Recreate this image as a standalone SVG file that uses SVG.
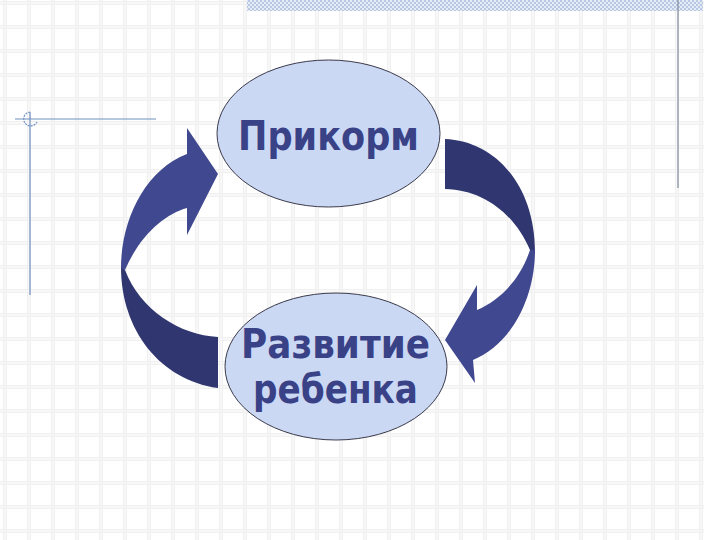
<svg xmlns="http://www.w3.org/2000/svg" width="720" height="540" viewBox="0 0 720 540">
<style>
.node ellipse{fill:#cbd8f4;stroke:#3a3a4a;stroke-width:1}
.node text{font-family:"DejaVu Sans","Liberation Sans",sans-serif;font-weight:bold;font-size:40px;fill:#3a4287;text-anchor:middle}
.deco{stroke:#6f8fc2;stroke-width:1.2;fill:none}
.dark{fill:#30366f}
.light{fill:#40488f}
</style>
<defs>
<pattern id="grid" patternUnits="userSpaceOnUse" x="3" y="25" width="24" height="24">
<rect x="0" y="0" width="4" height="24" fill="#f8f8f8"/>
<rect x="0" y="0" width="24" height="4" fill="#f8f8f8"/>
<rect x="0" y="0" width="1" height="24" fill="#f0f0f0"/>
<rect x="3" y="0" width="1" height="24" fill="#f0f0f0"/>
<rect x="0" y="0" width="24" height="1" fill="#f0f0f0"/>
<rect x="0" y="3" width="24" height="1" fill="#f0f0f0"/>
</pattern>
<pattern id="hatch" patternUnits="userSpaceOnUse" width="4" height="4">
<rect width="4" height="4" fill="#e6ecf6"/>
<rect width="2" height="2" fill="#b9c8e2"/>
<rect x="2" y="2" width="2" height="2" fill="#b9c8e2"/>
</pattern>
</defs>
<g id="background">
<rect width="720" height="540" fill="#ffffff"/>
<rect width="704" height="540" fill="url(#grid)"/>
<rect x="247" y="0" width="456" height="11" fill="url(#hatch)"/>
<line class="deco" x1="15" y1="119" x2="156" y2="119"/>
<line class="deco" x1="30" y1="112" x2="30" y2="295"/>
<path class="deco" d="M30,112 A7,7 0 1 0 37,122" stroke-dasharray="2 1"/>
<line x1="678" y1="0" x2="678" y2="188" stroke="#7f8a9c" stroke-width="1.2"/>
</g>
<g id="connectors">
<g id="arrow-left">
<path class="dark" d="M121,267 C121,330 160,380 218,388 L218,337 C180,335 140,310 125,270 Z"/>
<path class="light" d="M121,268 C121,220 145,170 187,154 L187,128 L218,174 L187,235 L187,208 C165,214 140,235 125,270 Z"/>
</g>
<g id="arrow-right">
<path class="dark" d="M445,139 C495,141 535,185 535,252 L530,250 C515,215 485,190 445,189 Z"/>
<path class="light" d="M535,250 C535,300 510,345 473,360 L475,383 L445,340 L477,285 L477,310 C500,300 520,280 530,250 Z"/>
</g>
</g>
<g id="node-prikorm" class="node">
<ellipse cx="328.5" cy="133.5" rx="111.5" ry="73.5"/>
<text x="328.5" y="150" textLength="181" lengthAdjust="spacingAndGlyphs">Прикорм</text>
</g>
<g id="node-razvitie" class="node">
<ellipse cx="336" cy="366.5" rx="111" ry="73.5"/>
<text x="335.5" y="358" textLength="189" lengthAdjust="spacingAndGlyphs">Развитие</text>
<text x="335.5" y="403" textLength="165" lengthAdjust="spacingAndGlyphs">ребенка</text>
</g>
</svg>
